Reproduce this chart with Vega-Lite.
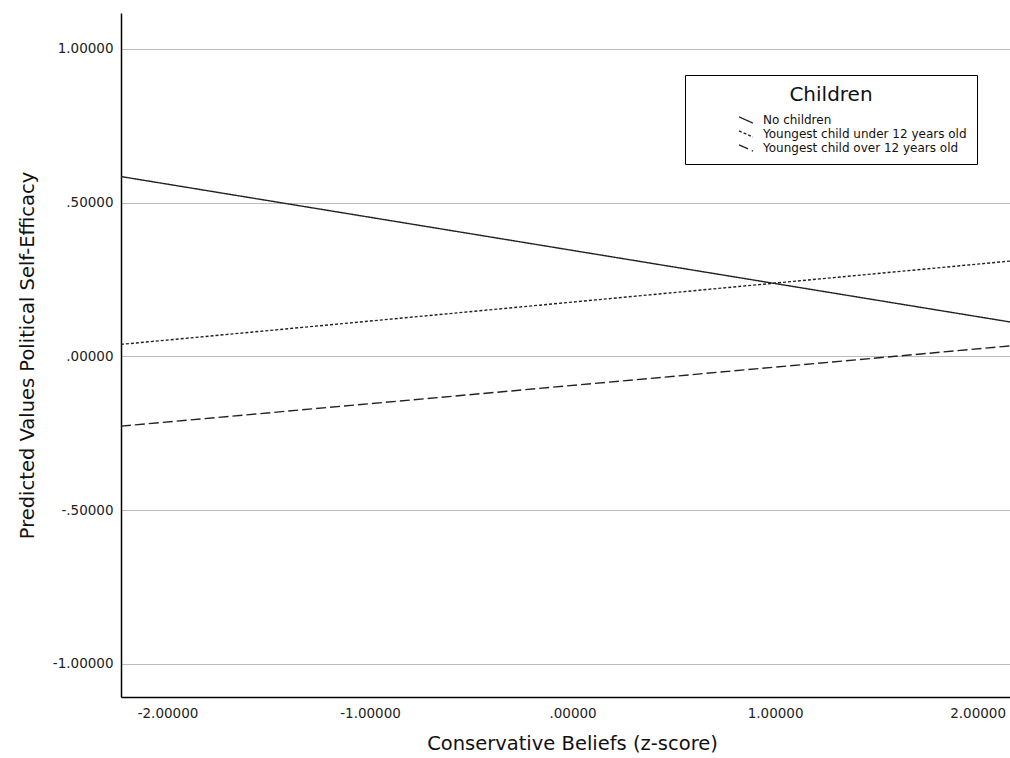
{
  "$schema": "https://vega.github.io/schema/vega-lite/v6.json",
  "width": 889,
  "height": 684,
  "autosize": {"type": "none"},
  "padding": {"left": 121, "top": 13, "right": 0, "bottom": 61},
  "background": "white",
  "config": {
    "view": {"stroke": null},
    "font": "DejaVu Sans"
  },
  "data": {
    "values": [
      {"z": -2.23, "pred": 0.585, "Children": "No children"},
      {"z": 2.16, "pred": 0.112, "Children": "No children"},
      {"z": -2.23, "pred": 0.039, "Children": "Youngest child under 12 years old"},
      {"z": 2.16, "pred": 0.310, "Children": "Youngest child under 12 years old"},
      {"z": -2.23, "pred": -0.227, "Children": "Youngest child over 12 years old"},
      {"z": 2.16, "pred": 0.034, "Children": "Youngest child over 12 years old"}
    ]
  },
  "mark": {"type": "line", "color": "#222222", "strokeWidth": 1.4, "clip": true},
  "encoding": {
    "x": {
      "field": "z",
      "type": "quantitative",
      "scale": {"domain": [-2.2296, 2.16], "nice": false, "zero": false},
      "axis": {
        "title": "Conservative Beliefs (z-score)",
        "values": [-2, -1, 0, 1, 2],
        "grid": false,
        "ticks": false,
        "domainColor": "#000000",
        "domainWidth": 1.5,
        "labelFontSize": 13.5,
        "labelColor": "#222222",
        "labelPadding": 9,
        "labelExpr": "(datum.value < 0 ? '-' : '') + (abs(datum.value) < 1 ? slice(format(abs(datum.value), '.5f'), 1) : format(abs(datum.value), '.5f'))",
        "titleFontSize": 19.5,
        "titleFontWeight": "normal",
        "titleColor": "#111111",
        "titleX": 451,
        "titleY": 37,
        "titleBaseline": "top"
      }
    },
    "y": {
      "field": "pred",
      "type": "quantitative",
      "scale": {"domain": [-1.108, 1.117], "nice": false, "zero": false},
      "axis": {
        "title": "Predicted Values Political Self-Efficacy",
        "values": [-1, -0.5, 0, 0.5, 1],
        "grid": true,
        "gridColor": "#bbbbbb",
        "gridWidth": 1,
        "ticks": false,
        "domainColor": "#000000",
        "domainWidth": 1.5,
        "labelFontSize": 13.5,
        "labelColor": "#222222",
        "labelPadding": 8,
        "labelExpr": "(datum.value < 0 ? '-' : '') + (abs(datum.value) < 1 ? slice(format(abs(datum.value), '.5f'), 1) : format(abs(datum.value), '.5f'))",
        "titleFontSize": 19.5,
        "titleFontWeight": "normal",
        "titleColor": "#111111",
        "titleX": -84,
        "titleY": 342,
        "titleAngle": 270,
        "titleBaseline": "bottom"
      }
    },
    "strokeDash": {
      "field": "Children",
      "type": "nominal",
      "scale": {
        "domain": ["No children", "Youngest child under 12 years old", "Youngest child over 12 years old"],
        "range": [[1, 0], [3, 2], [10, 4]]
      },
      "legend": {
        "title": "Children",
        "orient": "none",
        "legendX": 564,
        "legendY": 62,
        "strokeColor": "#000000",
        "fillColor": "#ffffff",
        "padding": 10,
        "titleFontSize": 20,
        "titleFontWeight": "normal",
        "titleColor": "#111111",
        "titleAnchor": "middle",
        "titleAlign": "center",
        "titlePadding": 7,
        "labelFontSize": 12,
        "labelColor": "#111111",
        "labelOffset": 9,
        "labelLimit": 400,
        "symbolType": "M-1,-0.45L1,0.45",
        "symbolSize": 196,
        "symbolStrokeColor": "#222222",
        "symbolStrokeWidth": 1.3,
        "symbolOffset": 43,
        "rowPadding": 0
      }
    }
  }
}
